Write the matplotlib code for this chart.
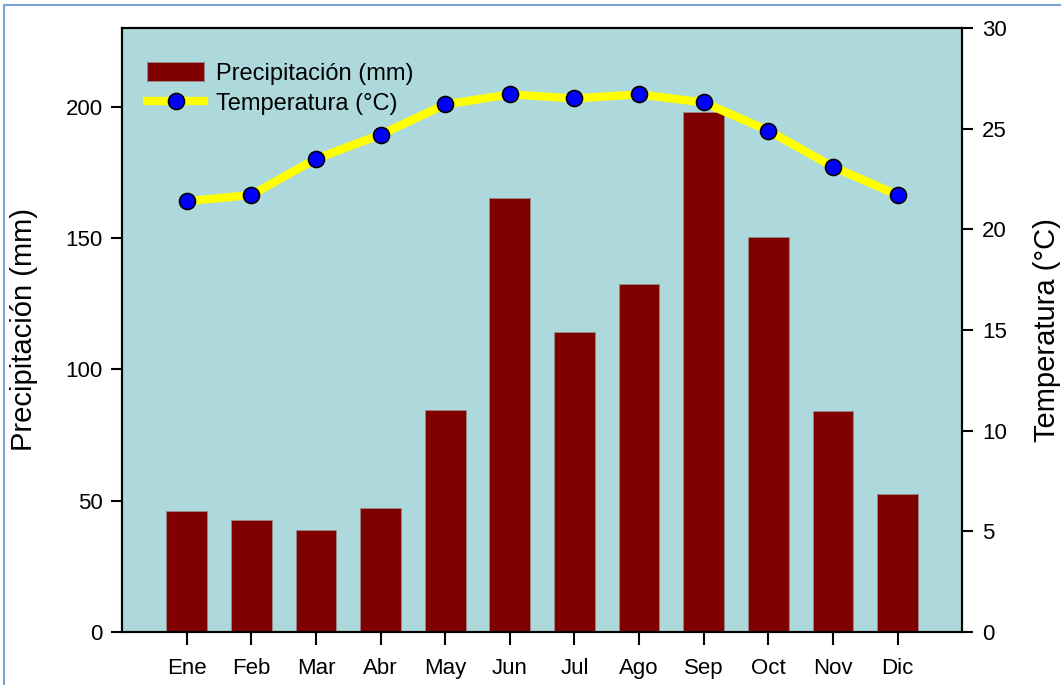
import numpy as np
import matplotlib.pyplot as plt
import matplotlib.patches as patches

plt.rcParams['font.family'] = ['Liberation Sans', 'DejaVu Sans']

# Monthly climate data
months = ['Ene', 'Feb', 'Mar', 'Abr', 'May', 'Jun', 'Jul', 'Ago', 'Sep', 'Oct', 'Nov', 'Dic']
precip = [46.0, 42.5, 38.8, 47.2, 84.5, 165.3, 114.3, 132.6, 198.0, 150.5, 84.0, 52.6]
temp = [21.4, 21.7, 23.5, 24.7, 26.2, 26.7, 26.5, 26.7, 26.3, 24.9, 23.1, 21.7]

fig = plt.figure(figsize=(10.61, 6.85), dpi=100)
ax1 = fig.add_axes([0.115, 0.0774, 0.792, 0.8818])
ax2 = ax1.twinx()

x = np.arange(len(months))

# Precipitation bars
bars = ax1.bar(x, precip, width=0.63, color='#800000', edgecolor='#9a8a8a',
               linewidth=0.6, label='Precipitación (mm)', zorder=2)
ax1.set_facecolor('#add9dd')
ax1.set_xlim(-1, 12)
ax1.set_ylim(0, 230)
ax1.set_yticks([0, 50, 100, 150, 200])
ax1.set_xticks(x)
ax1.set_xticklabels(months)
ax1.set_ylabel('Precipitación (mm)', fontsize=21, labelpad=20)

# Temperature line
line, = ax2.plot(x, temp, color='#ffff00', linewidth=6, marker='o',
                 markersize=11.5, markerfacecolor='#0000ff', markeredgecolor='#000000',
                 markeredgewidth=1.2, label='Temperatura (°C)', zorder=3)
ax2.set_ylim(0, 30)
ax2.set_yticks([0, 5, 10, 15, 20, 25, 30])
ax2.set_ylabel('Temperatura (°C)', fontsize=21, labelpad=19)

for ax in (ax1, ax2):
    for s in ax.spines.values():
        s.set_linewidth(1.5)
    ax.tick_params(axis='both', direction='out', length=8, width=1.5,
                   labelsize=16, pad=6)
ax1.tick_params(axis='x', length=9, pad=10)

leg = ax2.legend([bars, line], ['Precipitación (mm)', 'Temperatura (°C)'],
                 loc='upper left', bbox_to_anchor=(0.004, 0.978), frameon=False,
                 fontsize=17, handlelength=2.45, handleheight=0.85,
                 handletextpad=0.5, labelspacing=0.3)

# Outer frame of the document box
frame = patches.Rectangle((0.004, -0.1), 1.1, 1.0927, transform=fig.transFigure,
                          fill=False, edgecolor='#7aa2d4', linewidth=1.5)
fig.patches.append(frame)

fig.savefig('out.png', dpi=100)
